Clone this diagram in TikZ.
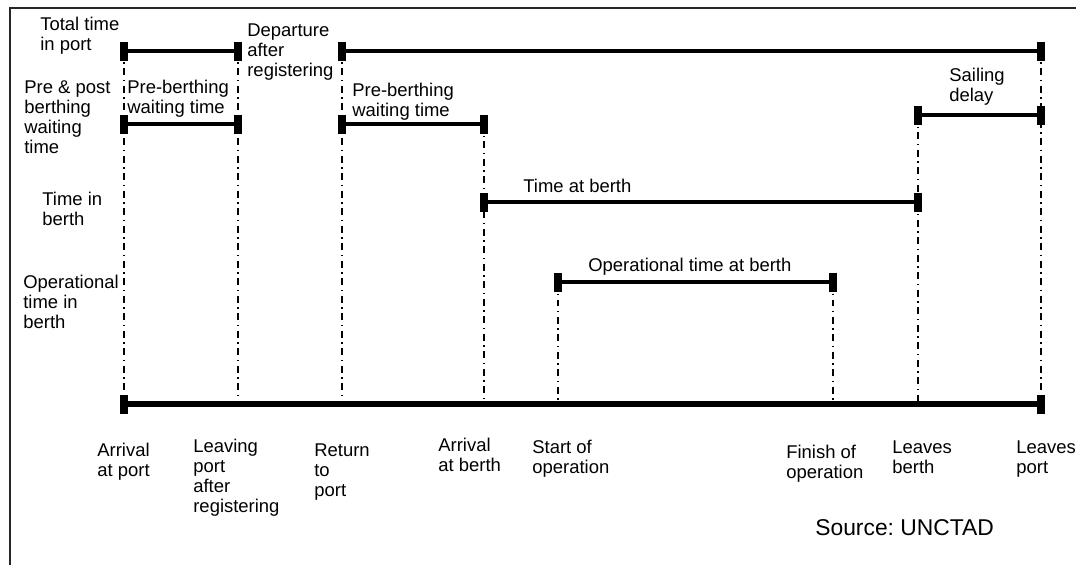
\documentclass[tikz,border=0pt]{standalone}
\usepackage{fontspec}
\setmainfont{Liberation Sans}
\usepackage{tikz}
\usetikzlibrary{arrows.meta}
\frenchspacing

\tikzset{
  endbar/.tip={Bar[width=0.38cm,line width=4pt]},
  span/.style={line width=2.3pt, endbar-endbar, shorten <=-2pt, shorten >=-2pt},
  axisline/.style={line width=3.1pt, endbar-endbar, shorten <=-2pt, shorten >=-2pt},
  guide/.style={line width=0.75pt, dash pattern=on 0.14cm off 0.09cm on 0.03cm off 0.09cm},
  lbl/.style={anchor=north west, align=left, inner sep=0pt, font=\fontsize{10.5}{11.4}\selectfont},
  frame/.style={line width=1.2pt, gray!30!black}
}

\begin{document}
\begin{tikzpicture}[x=0.02cm, y=-0.02cm]
    \useasboundingbox (0,0) rectangle (1076,565);
    \draw[frame] (10,565) -- (10,8) -- (1076,8);

    \coordinate (T1) at (124,51);
    \coordinate (T2) at (238,51);
    \coordinate (T3) at (342,51);
    \coordinate (T4) at (1041,51);
    \coordinate (W1) at (124,124);
    \coordinate (W2) at (238,124);
    \coordinate (W3) at (342,124);
    \coordinate (W4) at (484,124);
    \coordinate (S1) at (918,115);
    \coordinate (S2) at (1041,115);
    \coordinate (B1) at (484,202);
    \coordinate (B2) at (918,202);
    \coordinate (O1) at (558,282);
    \coordinate (O2) at (833,282);
    \coordinate (E1) at (124,404);
    \coordinate (E2) at (238,404);
    \coordinate (E3) at (342,404);
    \coordinate (E4) at (484,404);
    \coordinate (E5) at (558,404);
    \coordinate (E6) at (833,404);
    \coordinate (E7) at (918,404);
    \coordinate (E8) at (1041,404);

    \draw[guide] (T1) -- (E1);
    \draw[guide] (T2) -- (E2);
    \draw[guide] (T3) -- (E3);
    \draw[guide] (W4) -- (E4);
    \draw[guide] (O1) -- (E5);
    \draw[guide] (O2) -- (E6);
    \draw[guide] (S1) -- (E7);
    \draw[guide] (T4) -- (E8);

    \draw[span] (T1) -- (T2);
    \draw[span] (T3) -- (T4);
    \draw[span] (W1) -- (W2);
    \draw[span] (W3) -- (W4);
    \draw[span] (S1) -- (S2);
    \draw[span] (B1) -- (B2);
    \draw[span] (O1) -- (O2);
    \draw[axisline] (E1) -- (E8);

    \node[lbl] (totport) at (40,17) {Total time\\in port};
    \node[lbl] (prepost) at (24,80) {Pre \& post\\berthing\\waiting\\time};
    \node[lbl] (inberth) at (42,192) {Time in\\berth};
    \node[lbl] (opberth) at (23,275) {Operational\\time in\\berth};
    \node[lbl] (prewait1) at (127,80) {Pre-berthing\\waiting time};
    \node[lbl] (departure) at (247,23) {Departure\\after\\registering};
    \node[lbl] (prewait2) at (352,83) {Pre-berthing\\waiting time};
    \node[lbl] (sailing) at (949,68) {Sailing\\delay};
    \node[lbl] (atberth) at (523,179) {Time at berth};
    \node[lbl] (opatberth) at (588,258) {Operational time at berth};

    \node[lbl] (arrport) at (97,443) {Arrival\\at port};
    \node[lbl] (leaving) at (193,439) {Leaving\\port\\after\\registering};
    \node[lbl] (return) at (314,443) {Return\\to\\port};
    \node[lbl] (arrberth) at (438,438) {Arrival\\at berth};
    \node[lbl] (startop) at (532,440) {Start of\\operation};
    \node[lbl] (finishop) at (786,445) {Finish of\\operation};
    \node[lbl] (lvberth) at (892,440) {Leaves\\berth};
    \node[lbl] (lvport) at (1016,440) {Leaves\\port};

    \node[lbl, font=\fontsize{13}{15}\selectfont] (source) at (815,519) {Source: UNCTAD};
\end{tikzpicture}
\end{document}
